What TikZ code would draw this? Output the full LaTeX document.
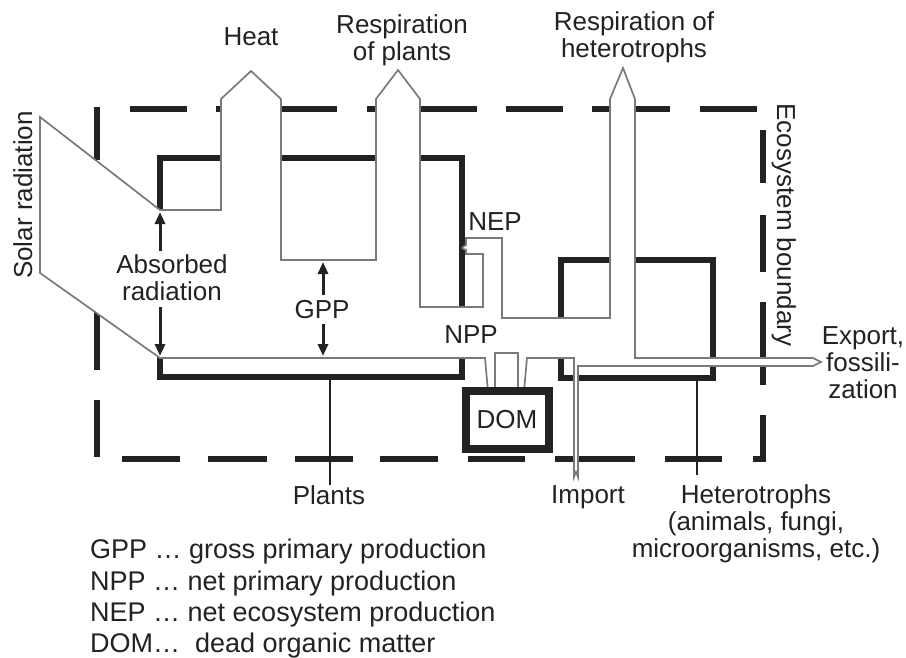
\documentclass[tikz,border=0pt]{standalone}
\usepackage{fontspec}
\setmainfont{Liberation Sans}
\usetikzlibrary{arrows.meta}
\definecolor{ink}{HTML}{222222}
\definecolor{flowgrey}{HTML}{7A7A7A}
\begin{document}
\begin{tikzpicture}[x=1pt,y=-1pt,
  thickbox/.style={draw=ink,line width=5.5pt},
  bound/.style={draw=ink,line width=5.5pt},
  flow/.style={draw=flowgrey,line width=1.7pt,fill=white,line join=miter},
  lead/.style={draw=ink,line width=2.4pt},
  arr/.style={draw=ink,line width=3pt,-{Triangle[length=12pt,width=10pt]}},
  lbl/.style={font=\fontsize{26}{27}\selectfont,text=ink,inner sep=0pt,align=center},
  leg/.style={font=\fontsize{27}{30}\selectfont,text=ink,inner sep=0pt,anchor=base west},
]
\useasboundingbox (0,0) rectangle (906,657);
\fill[white] (0,0) rectangle (906,657);

% ecosystem boundary (dashed)
\foreach \a/\b in {130/187,216/250,281/337,367/400,420/477,506/563,592/670,700/757}
  \draw[bound] (\a,109) -- (\b,109);
\foreach \a/\b in {107/160,300/370,400/457}
  \draw[bound] (97,\a) -- (97,\b);
\foreach \a/\b in {122/180,208/267,295/353,380/438,468/525,555/635,665/722}
  \draw[bound] (\a,459) -- (\b,459);
\foreach \a/\b in {130/183,215/272,302/385}
  \draw[bound] (763,\a) -- (763,\b);
\draw[bound] (753,459) -- (763,459) -- (763,415);

% compartments
\draw[thickbox] (160,158) rectangle (462,377);
\draw[thickbox] (561,260) rectangle (713,378);

% leaders to labels
\coordinate (plantsfoot) at (330,377);
\coordinate (plantsend) at (330,485);
\coordinate (hetfoot) at (697,378);
\coordinate (hetend) at (697,475);
\draw[lead] (plantsfoot) -- (plantsend);
\draw[lead] (hetfoot) -- (hetend);

% energy / matter flow band
\draw[flow] (40,117) -- (160,210) -- (221,210) -- (221,99) -- (251,71) -- (281,99)
  -- (281,260) -- (376,260) -- (376,99) -- (398,70) -- (420,99) -- (420,307)
  -- (483,307) -- (483,254) -- (466,254) -- (466,250) .. controls (461,248) .. (466,245)
  -- (466,238) -- (502,238) -- (502,318) -- (610,318) -- (610,99) -- (623,68)
  -- (635,99) -- (635,358) -- (813,358) -- (821,362) -- (813,366) -- (578,366)
  -- (578,477) -- (576,472) -- (574,477) -- (574,358) -- (527,358) -- (524,391)
  -- (518,391) -- (518,353) -- (495,353) -- (495,391) -- (488,391) -- (485,358)
  -- (160,358) -- (40,273) -- cycle;

% dead organic matter
\node[draw=ink,line width=8pt,fill=white,minimum width=83pt,minimum height=58pt,
  inner sep=0pt,font=\fontsize{26}{27}\selectfont,text=ink] (dom) at (507,420) {DOM};

% absorbed radiation and GPP arrows
\node[lbl,anchor=north] (absorbed) at (172,254) {Absorbed\\radiation};
\coordinate (absUpS) at (160,251);
\coordinate (absUpT) at (160,212);
\coordinate (absDnS) at (160,307);
\coordinate (absDnT) at (160,356);
\draw[arr] (absUpS) -- (absUpT);
\draw[arr] (absDnS) -- (absDnT);

\node[lbl,anchor=base] (gpp) at (322,318) {GPP};
\coordinate (gppUpS) at (323,295);
\coordinate (gppUpT) at (323,262);
\coordinate (gppDnS) at (323,324);
\coordinate (gppDnT) at (323,356);
\draw[arr] (gppUpS) -- (gppUpT);
\draw[arr] (gppDnS) -- (gppDnT);

% labels
\node[lbl,anchor=base] (heat) at (251,45) {Heat};
\node[lbl,anchor=north] (resplants) at (402,14) {Respiration\\of plants};
\node[lbl,anchor=north] (reshet) at (634,11) {Respiration of\\heterotrophs};
\node[lbl,anchor=base,rotate=90] (solar) at (32,195) {Solar radiation};
\node[lbl,anchor=base,rotate=-90] (boundary) at (777,225) {Ecosystem boundary};
\node[lbl,anchor=base] (nep) at (495,230) {NEP};
\node[lbl,anchor=base] (npp) at (471,343) {NPP};
\node[lbl,anchor=north] (export) at (863,326) {Export,\\fossili-\\zation};
\node[lbl,anchor=base] (plants) at (329,504) {Plants};
\node[lbl,anchor=base] (import) at (588,503) {Import};
\node[lbl,anchor=north] (hetero) at (756,484) {Heterotrophs\\(animals, fungi,\\microorganisms, etc.)};

% legend
\node[leg] (l1) at (90,558) {GPP … gross primary production};
\node[leg] (l2) at (90,590) {NPP … net primary production};
\node[leg] (l3) at (90,621) {NEP … net ecosystem production};
\node[leg] (l4) at (90,652) {DOM…\ \ dead organic matter};
\end{tikzpicture}
\end{document}
